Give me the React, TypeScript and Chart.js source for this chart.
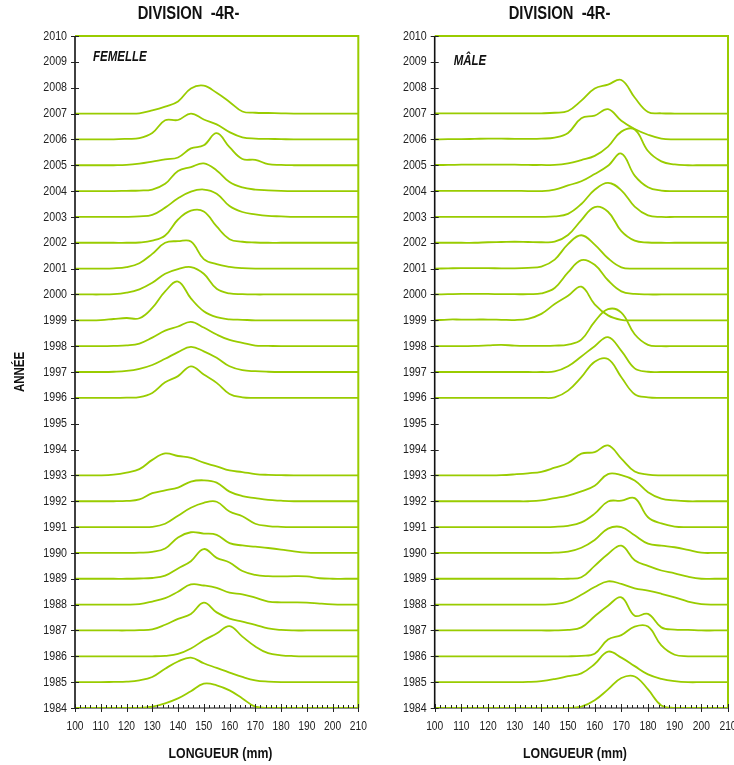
import React, { useEffect, useRef } from "react";
import { Chart, registerables } from "chart.js";

Chart.register(...registerables);

// Body length classes (mm) at which each density profile is sampled
const LENGTHS = [100, 105, 110, 115, 120, 125, 130, 135, 140, 145, 150, 155, 160, 165, 170, 175, 180, 185, 190, 195, 200, 205, 210];

// FEMELLE — profile heights (in "year" units above each year's baseline)
const F2007 = [0, 0, 0, 0, 0, 0.01, 0.12, 0.27, 0.47, 0.97, 1.08, 0.8, 0.45, 0.08, 0.03, 0.02, 0.01, 0, 0, 0, 0, 0, 0];
const F2006 = [0, 0, 0, 0, 0.02, 0.05, 0.25, 0.74, 0.75, 1.0, 0.77, 0.58, 0.28, 0.08, 0.03, 0.02, 0.01, 0, 0, 0, 0, 0, 0];
const F2005 = [0, 0, 0, 0, 0.01, 0.06, 0.14, 0.23, 0.3, 0.65, 0.77, 1.24, 0.7, 0.24, 0.21, 0.04, 0.01, 0, 0, 0, 0, 0, 0];
const F2004 = [0, 0, 0, 0, 0.01, 0.02, 0.06, 0.28, 0.78, 0.93, 1.07, 0.8, 0.35, 0.14, 0.06, 0.03, 0.01, 0, 0, 0, 0, 0, 0];
const F2003 = [0, 0, 0, 0, 0, 0.02, 0.08, 0.36, 0.72, 0.98, 1.06, 0.9, 0.42, 0.19, 0.1, 0.04, 0.02, 0, 0, 0, 0, 0, 0];
const F2002 = [0, 0, 0, 0, 0, 0.01, 0.08, 0.28, 0.9, 1.24, 1.21, 0.63, 0.14, 0.04, 0.01, 0, 0, 0, 0, 0, 0, 0, 0];
const F2001 = [0, 0, 0, 0.01, 0.06, 0.21, 0.57, 1.0, 1.06, 1.05, 0.37, 0.17, 0.07, 0.02, 0, 0, 0, 0, 0, 0, 0, 0, 0];
const F2000 = [0, 0, 0, 0.01, 0.07, 0.2, 0.45, 0.8, 0.98, 1.06, 0.8, 0.22, 0.04, 0.01, 0, 0, 0, 0, 0, 0, 0, 0, 0];
const F1999 = [0, 0, 0.01, 0.05, 0.09, 0.08, 0.48, 1.12, 1.5, 0.85, 0.35, 0.12, 0.04, 0.02, 0, 0, 0, 0, 0, 0, 0, 0, 0];
const F1998 = [0, 0, 0, 0.01, 0.03, 0.1, 0.33, 0.6, 0.76, 0.94, 0.72, 0.45, 0.24, 0.13, 0.02, 0.01, 0, 0, 0, 0, 0, 0, 0];
const F1997 = [0, 0, 0, 0.01, 0.04, 0.12, 0.27, 0.51, 0.77, 0.97, 0.8, 0.55, 0.22, 0.07, 0.03, 0.01, 0, 0, 0, 0, 0, 0, 0];
const F1996 = [0, 0, 0, 0, 0.01, 0.03, 0.19, 0.6, 0.84, 1.22, 0.9, 0.58, 0.15, 0.02, 0, 0, 0, 0, 0, 0, 0, 0, 0];
const F1993 = [0, 0, 0, 0.03, 0.11, 0.24, 0.6, 0.85, 0.75, 0.68, 0.49, 0.35, 0.19, 0.13, 0.05, 0.02, 0.01, 0, 0, 0, 0, 0, 0];
const F1992 = [0, 0, 0, 0, 0.01, 0.07, 0.31, 0.42, 0.53, 0.76, 0.81, 0.72, 0.37, 0.2, 0.12, 0.05, 0.02, 0, 0, 0, 0, 0, 0];
const F1991 = [0, 0, 0, 0, 0, 0, 0.01, 0.13, 0.44, 0.75, 0.94, 0.98, 0.6, 0.42, 0.13, 0.04, 0.01, 0, 0, 0, 0, 0, 0];
const F1990 = [0, 0, 0, 0, 0, 0.01, 0.04, 0.17, 0.6, 0.8, 0.75, 0.7, 0.38, 0.29, 0.24, 0.19, 0.13, 0.06, 0.01, 0, 0, 0, 0];
const F1989 = [0, 0, 0, 0, 0, 0.01, 0.03, 0.12, 0.4, 0.68, 1.15, 0.81, 0.63, 0.3, 0.15, 0.1, 0.09, 0.1, 0.09, 0.02, 0, 0, 0];
const F1988 = [0, 0, 0, 0, 0, 0.02, 0.12, 0.25, 0.5, 0.78, 0.74, 0.65, 0.46, 0.4, 0.27, 0.12, 0.09, 0.09, 0.08, 0.04, 0.01, 0, 0];
const F1987 = [0, 0, 0, 0, 0, 0.01, 0.04, 0.22, 0.45, 0.64, 1.08, 0.7, 0.46, 0.34, 0.22, 0.08, 0.02, 0, 0, 0, 0, 0, 0];
const F1986 = [0, 0, 0, 0, 0, 0, 0, 0.02, 0.09, 0.3, 0.62, 0.88, 1.17, 0.76, 0.38, 0.12, 0.04, 0.01, 0, 0, 0, 0, 0];
const F1985 = [0, 0, 0, 0.01, 0.02, 0.07, 0.2, 0.52, 0.8, 0.95, 0.73, 0.55, 0.37, 0.2, 0.07, 0.02, 0, 0, 0, 0, 0, 0, 0];
const F1984 = [0, 0, 0, 0, 0, 0, 0.05, 0.18, 0.37, 0.65, 0.94, 0.88, 0.68, 0.37, 0.05, 0, 0, 0, 0, 0, 0, 0, 0];

// MÂLE
const M2007 = [0.01, 0.01, 0.01, 0.01, 0.01, 0.01, 0.01, 0.01, 0.01, 0.03, 0.1, 0.5, 0.97, 1.12, 1.3, 0.62, 0.06, 0.01, 0, 0, 0, 0, 0];
const M2006 = [0, 0.01, 0.01, 0.02, 0.03, 0.03, 0.02, 0.02, 0.03, 0.07, 0.25, 0.82, 0.92, 1.17, 0.72, 0.4, 0.18, 0.03, 0, 0, 0, 0, 0];
const M2005 = [0.01, 0.01, 0.02, 0.02, 0.02, 0.02, 0.02, 0.01, 0.01, 0.01, 0.07, 0.2, 0.36, 0.72, 1.3, 1.38, 0.55, 0.15, 0.03, 0, 0, 0, 0];
const M2004 = [0.01, 0.01, 0.01, 0.01, 0.01, 0.01, 0.01, 0, 0, 0.06, 0.22, 0.38, 0.66, 0.98, 1.45, 0.6, 0.15, 0.02, 0, 0, 0, 0, 0];
const M2003 = [0, 0, 0, 0, 0, 0, 0, 0, 0, 0.02, 0.12, 0.5, 1.05, 1.32, 1.03, 0.4, 0.06, 0, 0, 0, 0, 0, 0];
const M2002 = [0, 0, 0, 0, 0.02, 0.03, 0.04, 0.03, 0.02, 0.04, 0.3, 0.88, 1.38, 1.2, 0.45, 0.08, 0.01, 0, 0, 0, 0, 0, 0];
const M2001 = [0, 0.01, 0.02, 0.02, 0.02, 0.01, 0.01, 0.03, 0.08, 0.35, 0.95, 1.29, 0.93, 0.4, 0.05, 0, 0, 0, 0, 0, 0, 0, 0];
const M2000 = [0, 0.01, 0.02, 0.02, 0.02, 0.01, 0.01, 0.01, 0.04, 0.25, 0.85, 1.33, 1.15, 0.55, 0.12, 0.02, 0, 0, 0, 0, 0, 0, 0];
const M1999 = [0, 0.03, 0.03, 0.03, 0.03, 0.02, 0.01, 0.06, 0.25, 0.63, 0.95, 1.3, 0.62, 0.19, 0.02, 0, 0, 0, 0, 0, 0, 0, 0];
const M1998 = [0, 0, 0, 0.01, 0.03, 0.05, 0.02, 0.01, 0.01, 0.02, 0.06, 0.25, 0.95, 1.43, 1.3, 0.46, 0.05, 0, 0, 0, 0, 0, 0];
const M1997 = [0, 0, 0, 0, 0, 0, 0, 0, 0, 0.02, 0.22, 0.6, 1.0, 1.35, 0.82, 0.14, 0.01, 0, 0, 0, 0, 0, 0];
const M1996 = [0, 0, 0, 0, 0, 0, 0, 0, 0, 0.02, 0.28, 0.8, 1.4, 1.5, 0.8, 0.14, 0.02, 0, 0, 0, 0, 0, 0];
const M1993 = [0, 0, 0, 0, 0, 0.01, 0.04, 0.08, 0.14, 0.3, 0.48, 0.84, 0.9, 1.16, 0.65, 0.15, 0.03, 0, 0, 0, 0, 0, 0];
const M1992 = [0, 0, 0, 0, 0, 0, 0, 0, 0.03, 0.12, 0.22, 0.38, 0.6, 1.05, 1.01, 0.8, 0.35, 0.1, 0.03, 0, 0, 0, 0];
const M1991 = [0, 0, 0, 0, 0, 0, 0, 0, 0, 0.01, 0.05, 0.18, 0.52, 0.99, 1.02, 1.12, 0.38, 0.14, 0.02, 0, 0, 0, 0];
const M1990 = [0, 0, 0, 0, 0, 0, 0, 0, 0, 0.01, 0.05, 0.2, 0.5, 0.94, 1.0, 0.68, 0.36, 0.28, 0.22, 0.12, 0.01, 0, 0];
const M1989 = [0, 0, 0, 0, 0, 0, 0, 0, 0, 0, 0, 0.06, 0.5, 0.96, 1.28, 0.72, 0.5, 0.32, 0.21, 0.08, 0, 0, 0];
const M1988 = [0, 0, 0, 0, 0, 0, 0, 0, 0, 0.02, 0.12, 0.38, 0.68, 0.9, 0.8, 0.63, 0.54, 0.42, 0.28, 0.12, 0.02, 0, 0];
const M1987 = [0, 0, 0, 0, 0, 0, 0, 0, 0, 0, 0.02, 0.12, 0.55, 0.96, 1.28, 0.57, 0.64, 0.12, 0.03, 0.02, 0, 0, 0];
const M1986 = [0, 0, 0, 0, 0, 0, 0, 0, 0, 0, 0, 0.02, 0.1, 0.65, 0.82, 1.15, 1.15, 0.42, 0.06, 0, 0, 0, 0];
const M1985 = [0, 0, 0, 0, 0, 0, 0, 0.01, 0.04, 0.12, 0.23, 0.34, 0.7, 1.18, 0.95, 0.62, 0.3, 0.13, 0.04, 0, 0, 0, 0];
const M1984 = [0, 0, 0, 0, 0, 0, 0, 0, 0, 0, 0, 0.05, 0.3, 0.72, 1.16, 1.22, 0.72, 0.1, 0, 0, 0, 0, 0];

const FEMALE_SERIES: [number, number[]][] = [
  [2007, F2007], [2006, F2006], [2005, F2005], [2004, F2004], [2003, F2003], [2002, F2002],
  [2001, F2001], [2000, F2000], [1999, F1999], [1998, F1998], [1997, F1997], [1996, F1996],
  [1993, F1993], [1992, F1992], [1991, F1991], [1990, F1990], [1989, F1989], [1988, F1988],
  [1987, F1987], [1986, F1986], [1985, F1985], [1984, F1984],
];
const MALE_SERIES: [number, number[]][] = [
  [2007, M2007], [2006, M2006], [2005, M2005], [2004, M2004], [2003, M2003], [2002, M2002],
  [2001, M2001], [2000, M2000], [1999, M1999], [1998, M1998], [1997, M1997], [1996, M1996],
  [1993, M1993], [1992, M1992], [1991, M1991], [1990, M1990], [1989, M1989], [1988, M1988],
  [1987, M1987], [1986, M1986], [1985, M1985], [1984, M1984],
];

const YEAR_MIN = 1984;
const YEAR_MAX = 2010;
const LEN_MIN = 100;
const LEN_MAX = 210;
const LEN_STEP = 10;
const CHART_TITLE = "DIVISION  -4R-";
const X_TITLE = "LONGUEUR (mm)";
const Y_TITLE = "ANNÉE";

const GREEN = "#99cc00";
const FONT = "'Liberation Sans', Arial, sans-serif";
const NARROW = 0.82;

function narrowText(ctx: CanvasRenderingContext2D, text: string, x: number, y: number, font: string, align: CanvasTextAlign, rotate = 0) {
  ctx.save();
  ctx.translate(x, y);
  if (rotate) ctx.rotate(rotate);
  ctx.scale(NARROW, 1);
  ctx.font = font;
  ctx.textAlign = align;
  ctx.textBaseline = "middle";
  ctx.fillText(text, 0, 0);
  ctx.restore();
}

const ridgePlugin = {
  id: "ridgeDecor",
  beforeDatasetsDraw(chart: any) {
    const { ctx, chartArea: a } = chart;
    ctx.save();
    ctx.strokeStyle = GREEN;
    ctx.lineWidth = 2;
    ctx.beginPath();
    ctx.moveTo(a.left, a.top);
    ctx.lineTo(a.right, a.top);
    ctx.lineTo(a.right, a.bottom);
    ctx.stroke();
    ctx.strokeStyle = "#111";
    ctx.lineWidth = 1.2;
    ctx.beginPath();
    ctx.moveTo(a.left, a.bottom);
    ctx.lineTo(a.right, a.bottom);
    ctx.stroke();
    ctx.restore();
  },
  afterDatasetsDraw(chart: any, _args: any, opts: any) {
    const { ctx, chartArea: a, scales } = chart;
    const xs = scales.x;
    const ys = scales.y;
    ctx.save();
    ctx.strokeStyle = "#111";
    ctx.lineWidth = 1.6;
    ctx.beginPath();
    ctx.moveTo(a.left, a.top);
    ctx.lineTo(a.left, a.bottom + 1);
    ctx.stroke();
    ctx.lineWidth = 1;
    ctx.strokeStyle = "#222";
    ctx.beginPath();
    for (let v = ys.min; v <= ys.max; v += 1) {
      const py = Math.round(ys.getPixelForValue(v)) + 0.5;
      ctx.moveTo(a.left - 4, py);
      ctx.lineTo(a.left + 4, py);
    }
    for (let v = xs.min; v <= xs.max; v += 2) {
      const px = Math.round(xs.getPixelForValue(v)) + 0.5;
      if (v % LEN_STEP === 0) {
        ctx.moveTo(px, a.bottom - 4);
        ctx.lineTo(px, a.bottom + 4);
      } else {
        ctx.moveTo(px, a.bottom - 3);
        ctx.lineTo(px, a.bottom);
      }
    }
    ctx.stroke();

    // tick labels
    ctx.fillStyle = "#222";
    for (let v = ys.min; v <= ys.max; v += 1) {
      narrowText(ctx, String(v), a.left - 8, ys.getPixelForValue(v), `13px ${FONT}`, "right");
    }
    for (let v = xs.min; v <= xs.max; v += LEN_STEP) {
      narrowText(ctx, String(v), xs.getPixelForValue(v), a.bottom + 19, `12.5px ${FONT}`, "center");
    }

    // titles
    ctx.fillStyle = "#111";
    narrowText(ctx, opts.title, opts.titleX, 14, `bold 18px ${FONT}`, "center");
    narrowText(ctx, opts.xTitle, opts.xTitleX, 754, `bold 15px ${FONT}`, "center");
    if (opts.yTitle) {
      narrowText(ctx, opts.yTitle, 20.5, (a.top + a.bottom) / 2, `bold 14px ${FONT}`, "center", -Math.PI / 2);
    }
    narrowText(ctx, opts.label, a.left + opts.labelDx, opts.labelY, `italic bold 14px ${FONT}`, "left");
    ctx.restore();
  },
};

type RidgeProps = {
  series: [number, number[]][];
  label: string;
  labelDx: number;
  labelY: number;
  yTitle: string | null;
  width: number;
  yWidth: number;
  padRight: number;
  titleX: number;
  xTitleX: number;
};

function Ridge(p: RidgeProps) {
  const ref = useRef<HTMLCanvasElement | null>(null);
  useEffect(() => {
    if (!ref.current) return;
    const chart = new Chart(ref.current, {
      type: "line",
      data: {
        datasets: p.series.map(([year, h]) => ({
          label: String(year),
          data: LENGTHS.map((x, i) => ({ x, y: year + h[i] })),
          borderColor: GREEN,
          borderWidth: 1.8,
          pointRadius: 0,
          fill: false,
          tension: 0.4,
        })),
      },
      options: {
        responsive: false,
        animation: false,
        layout: { padding: { top: 36, right: p.padRight, left: 0, bottom: 0 } },
        plugins: {
          legend: { display: false },
          tooltip: { enabled: false },
          title: { display: false },
          // @ts-ignore
          ridgeDecor: {
            title: CHART_TITLE,
            titleX: p.titleX,
            xTitle: X_TITLE,
            xTitleX: p.xTitleX,
            yTitle: p.yTitle,
            label: p.label,
            labelDx: p.labelDx,
            labelY: p.labelY,
          },
        },
        scales: {
          x: {
            type: "linear",
            min: LEN_MIN,
            max: LEN_MAX,
            grid: { display: false },
            border: { display: false },
            ticks: { display: false, stepSize: LEN_STEP },
            afterFit: (s: any) => {
              s.height = 57;
            },
          },
          y: {
            type: "linear",
            min: YEAR_MIN,
            max: YEAR_MAX,
            grid: { display: false },
            border: { display: false },
            ticks: { display: false, stepSize: 1 },
            afterFit: (s: any) => {
              s.width = p.yWidth;
            },
          },
        },
      },
      plugins: [ridgePlugin],
    });
    return () => chart.destroy();
  }, []);
  return (
    <canvas
      ref={ref}
      width={p.width}
      height={765}
      style={{ display: "block", width: p.width, height: 765 }}
    />
  );
}

export default function App() {
  return (
    <div style={{ position: "fixed", left: 0, top: 0, width: 734, height: 765, overflow: "hidden", background: "#fff" }}>
      <div style={{ position: "absolute", left: 0, top: 0 }}>
        <Ridge
          series={FEMALE_SERIES}
          label="FEMELLE"
          labelDx={18}
          labelY={57}
          yTitle={Y_TITLE}
          width={376}
          yWidth={75}
          padRight={17.7}
          titleX={188.5}
          xTitleX={220.5}
        />
      </div>
      <div style={{ position: "absolute", left: 367, top: 0 }}>
        <Ridge
          series={MALE_SERIES}
          label="MÂLE"
          labelDx={19}
          labelY={61}
          yTitle={null}
          width={376}
          yWidth={67.7}
          padRight={15}
          titleX={192.5}
          xTitleX={208}
        />
      </div>
    </div>
  );
}
